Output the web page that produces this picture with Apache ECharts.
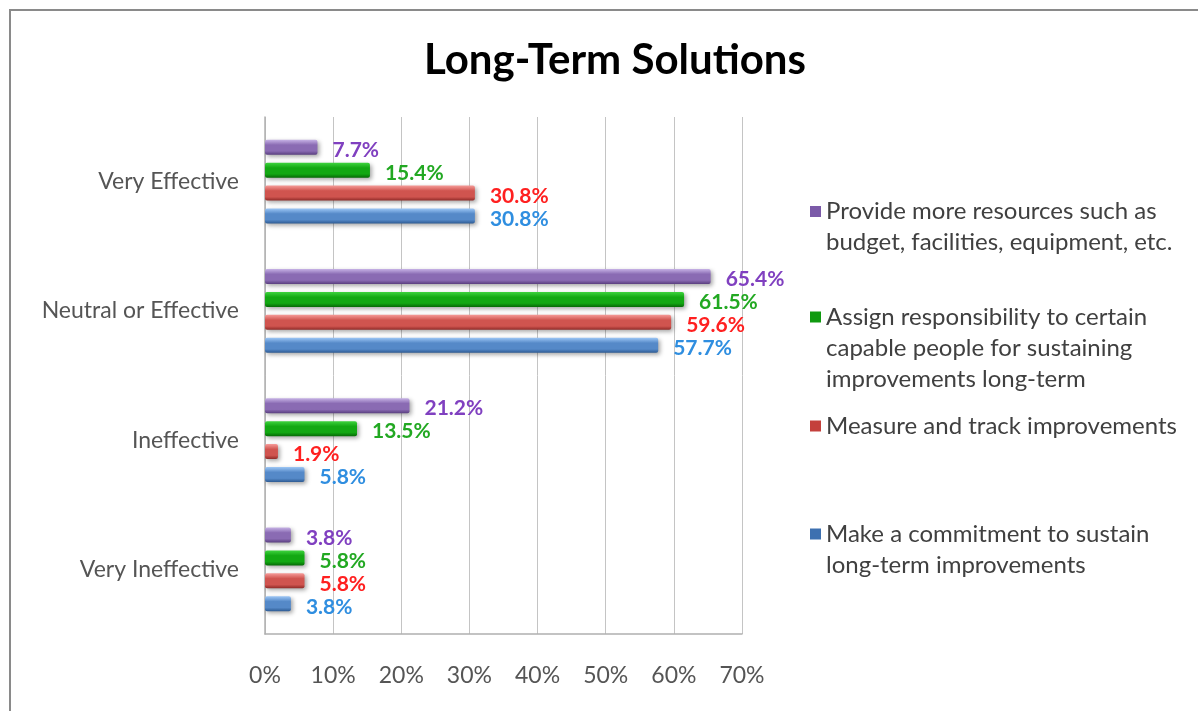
<!DOCTYPE html>
<html>
<head>
<meta charset="utf-8">
<title>Long-Term Solutions</title>
<script src="https://cdn.jsdelivr.net/npm/echarts@6/dist/echarts.min.js"></script>
<style>
  html, body { margin: 0; padding: 0; background: #fff; }
  #chart { width: 1198px; height: 711px; }
</style>
</head>
<body>
<div id="chart"></div>
<script>
// Rating categories, top to bottom
const categories = ['Very Effective', 'Neutral or Effective', 'Ineffective', 'Very Ineffective'];

// Share of respondents (%) per solution
const provideResources = [7.7, 65.4, 21.2, 3.8];
const assignResponsibility = [15.4, 61.5, 13.5, 5.8];
const measureTrack = [30.8, 59.6, 1.9, 5.8];
const makeCommitment = [30.8, 57.7, 5.8, 3.8];

const seriesNames = [
  'Provide more resources such as\nbudget, facilities, equipment, etc.',
  'Assign responsibility to certain\ncapable people for sustaining\nimprovements long-term',
  'Measure and track improvements',
  'Make a commitment to sustain\nlong-term improvements'
];

const xTicks = [0, 10, 20, 30, 40, 50, 60, 70];

const FONT = 'Lato, "Open Sans", sans-serif';

// Bar palette: [light top, mid, dark bottom, label colour]
const palette = [
  ['#c7b3e6', '#8a6bb3', '#5a3f80', '#8040c0'],
  ['#3fd43f', '#13a813', '#066a06', '#22a822'],
  ['#f59a97', '#d0544f', '#8e2a27', '#ff2020'],
  ['#9cc6f5', '#5589c8', '#2d5a92', '#2f8ee0']
];

function barGradient(p) {
  return new echarts.graphic.LinearGradient(0, 0, 0, 1, [
    { offset: 0, color: p[0] },
    { offset: 0.35, color: p[1] },
    { offset: 0.75, color: p[1] },
    { offset: 1, color: p[2] }
  ]);
}

const values = [provideResources, assignResponsibility, measureTrack, makeCommitment];

const series = values.map((vals, i) => ({
  name: seriesNames[i],
  type: 'bar',
  data: vals,
  barWidth: 15,
  barGap: '53%',
  itemStyle: {
    color: barGradient(palette[i]),
    borderRadius: 2,
    shadowColor: 'rgba(0,0,0,0.35)',
    shadowBlur: 4,
    shadowOffsetX: 2,
    shadowOffsetY: 2
  },
  label: {
    show: true,
    position: 'right',
    distance: 15,
    offset: [0, 3],
    formatter: (p) => p.value.toFixed(1) + '%',
    color: palette[i][3],
    fontFamily: FONT,
    fontWeight: 'bold',
    fontSize: 21
  },
  emphasis: { disabled: true }
}));

// Legend entries stacked on the right; blank lines above the text keep
// the icon level with the first line of each entry
const legendTops = [165, 239.5, 410.5, 487.5];
const legendLines = [2, 3, 1, 2];
const legendColors = ['#7b5aa8', '#109a10', '#c4403c', '#3d70b0'];
const LINE_H = 31;

const legends = seriesNames.map((name, i) => ({
  data: [{ name: name, itemStyle: { color: legendColors[i] } }],
  orient: 'vertical',
  left: 810,
  top: legendTops[i],
  padding: 0,
  itemWidth: 11,
  itemHeight: 11,
  icon: 'rect',
  selectedMode: false,
  formatter: (n) => '\n'.repeat(legendLines[i] - 1) + n,
  textStyle: {
    color: '#404040',
    fontFamily: FONT,
    fontSize: 24,
    lineHeight: LINE_H
  }
}));

const chart = echarts.init(document.getElementById('chart'), null, { renderer: 'canvas' });

chart.setOption({
  backgroundColor: '#ffffff',
  animation: false,
  title: {
    text: 'Long-Term Solutions',
    left: 610,
    textAlign: 'center',
    top: 34,
    textStyle: {
      color: '#000000',
      fontFamily: FONT,
      fontWeight: 'bold',
      fontSize: 42
    }
  },
  graphic: [{
    type: 'rect',
    shape: { x: 10, y: 10, width: 1400, height: 900 },
    style: { fill: 'none', stroke: '#8a8a8a', lineWidth: 2 },
    silent: true,
    z: -1
  }],
  legend: legends,
  grid: { left: 265, right: 456, top: 117, bottom: 77, containLabel: false },
  xAxis: {
    type: 'value',
    min: xTicks[0],
    max: xTicks[xTicks.length - 1],
    interval: 10,
    axisLine: { show: true, lineStyle: { color: '#b0b0b0', width: 1.5 } },
    axisTick: { show: false },
    splitLine: { show: true, lineStyle: { color: '#c4c4c4', width: 1 } },
    axisLabel: {
      margin: 30,
      formatter: (v) => v + '%',
      color: '#555555',
      fontFamily: FONT,
      fontSize: 23
    }
  },
  yAxis: {
    type: 'category',
    data: categories,
    inverse: true,
    axisLine: { show: true, lineStyle: { color: '#b0b0b0', width: 1.5 } },
    axisTick: { show: false },
    axisLabel: {
      margin: 26,
      color: '#555555',
      fontFamily: FONT,
      fontSize: 23
    }
  },
  series: series
});
</script>
</body>
</html>
